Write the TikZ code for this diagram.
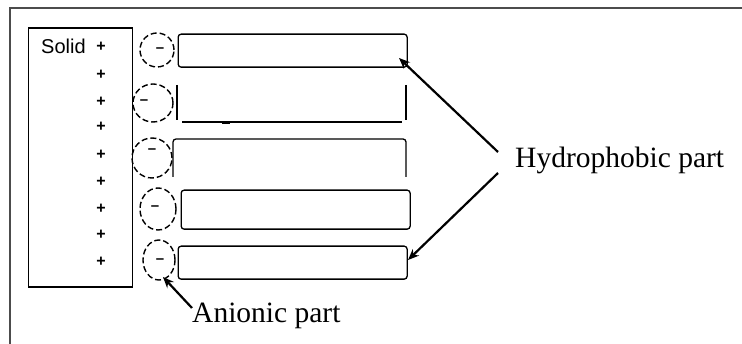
\documentclass[tikz,border=0pt]{standalone}
\usepackage{fontspec}
\setmainfont{Liberation Serif}
\newfontfamily\uisans{Liberation Sans}
\usetikzlibrary{shapes.geometric,arrows.meta}
\tikzset{
  seg/.style={draw, line width=1.3pt, rounded corners=3pt, inner sep=0pt, anchor=north west},
  head/.style={draw, dash pattern=on 6pt off 3pt, line width=1.4pt, ellipse, inner sep=0pt},
  solidtext/.style={font=\uisans\fontsize{20}{22}\selectfont, inner sep=0pt},
  charge/.style={font=\uisans\bfseries\fontsize{16}{18}\selectfont, inner sep=0pt},
  minus/.style={font=\uisans\bfseries\fontsize{15}{18}\selectfont, inner sep=0pt},
  label/.style={font=\fontsize{29.5}{34}\selectfont, inner sep=0pt, anchor=base west},
  pointer/.style={line width=2.2pt, -{Stealth[length=11pt,width=9pt]}},
  line/.style={line width=1.3pt}
}
\begin{document}
\begin{tikzpicture}[x=1pt,y=-1pt]
\useasboundingbox (0,0) rectangle (742,344);
% frame
\draw[line width=2pt, black!70] (742,8) -- (10,8) -- (10,344);
% solid box
\node[draw, line width=1.3pt, minimum width=104pt, minimum height=259pt, inner sep=0pt, anchor=north west] (solid) at (27.5,27.5) {};
\node[solidtext, anchor=west] (solidtxt) at (41,46) {Solid};
\foreach \y [count=\i] in {47,75,102,127,155,182,209,235,262}
  \node[charge] (p\i) at (101,\y) {+};
% heads
\node[head, minimum width=34pt, minimum height=34pt] (c1) at (157,50) {};
\node[head, minimum width=40pt, minimum height=38pt] (c2) at (153,103) {};
\node[head, minimum width=40pt, minimum height=40pt] (c3) at (152,158) {};
\node[head, minimum width=36pt, minimum height=42pt] (c4) at (158,209) {};
\node[head, minimum width=32pt, minimum height=40pt] (c5) at (159,260) {};
\node[minus] (m1) at (160,50) {–};
\node[minus] (m2) at (144,102) {–};
\node[minus] (m3) at (152,151) {–};
\node[minus] (m4) at (155,208) {–};
\node[minus] (m5) at (160,261) {–};
% tails
\node[seg, minimum width=229pt, minimum height=33pt] (r1) at (177.5,33.5) {};
\draw[line] (177,85) -- (177,120);
\draw[line] (182,122) -- (402,122);
\draw[line] (406,85) -- (406,120);
\draw[line width=2.5pt] (222,123) -- (230,123);
\draw[line, rounded corners=3pt] (173,177) -- (173,139) -- (406,139) -- (406,177);
\node[seg, minimum width=229pt, minimum height=39pt] (r4) at (180.5,189.5) {};
\node[seg, minimum width=229pt, minimum height=33pt] (r5) at (177.5,245.5) {};
% labels
\node[label] (hyd) at (515,168) {Hydrophobic part};
\node[label] (ani) at (192,323) {Anionic part};
\coordinate (h1) at (498,152);
\coordinate (h2) at (498,173);
\coordinate (t1) at (399,58);
\coordinate (t2) at (408,260);
\coordinate (a1) at (192,308);
\coordinate (a2) at (163,277);
\draw[pointer] (h1) -- (t1);
\draw[pointer] (h2) -- (t2);
\draw[pointer] (a1) -- (a2);
\end{tikzpicture}
\end{document}
